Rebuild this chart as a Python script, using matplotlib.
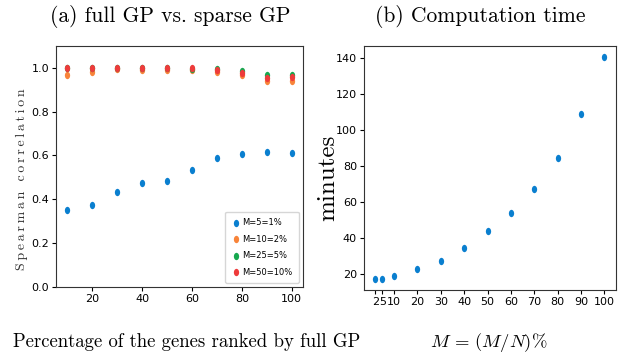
import matplotlib
matplotlib.use("Agg")
import matplotlib.pyplot as plt
from matplotlib.path import Path
from matplotlib.transforms import Affine2D

# left panel: spearman correlation vs percentage of ranked genes
pct = [10, 20, 30, 40, 50, 60, 70, 80, 90, 100]
m5 = [0.349, 0.375, 0.435, 0.475, 0.485, 0.536, 0.587, 0.606, 0.616, 0.611]
m10 = [0.965, 0.983, 0.995, 0.988, 0.991, 0.988, 0.980, 0.965, 0.942, 0.942]
m25 = [0.999, 0.997, 0.998, 0.997, 0.997, 0.996, 0.996, 0.985, 0.965, 0.968]
m50 = [1.000, 1.000, 0.998, 0.998, 0.998, 0.997, 0.991, 0.975, 0.953, 0.960]
labels = ["M=5=1%", "M=10=2%", "M=25=5%", "M=50=10%"]
colors = ["#0a7fcf", "#f8843a", "#16a84f", "#ee3b3b"]

# right panel: computation time
m_pct = [2, 5, 10, 20, 30, 40, 50, 60, 70, 80, 90, 100]
minutes = [17.0, 17.0, 18.5, 22.6, 27.1, 34.5, 43.6, 54.0, 67.1, 84.7, 109.1, 140.6]

plt.rcParams["mathtext.fontset"] = "cm"
tick_font = ["DejaVu Sans"]
serif = ["cmr10", "DejaVu Serif"]

# slightly tall ellipse marker (the source figure is squeezed horizontally)
ell = Path.unit_circle().transformed(Affine2D().scale(0.72, 1.0))

fig = plt.figure(figsize=(6.19, 3.53), dpi=100)
ax = fig.add_axes([0.0905, 0.187, 0.399, 0.683])
ax2 = fig.add_axes([0.588, 0.178, 0.407, 0.691])

for ys, lab, c in zip([m5, m10, m25, m50], labels, colors):
    ax.scatter(pct, ys, s=28, marker=ell, color=c, label=lab, linewidths=0)
ax.set_ylim(0, 1.1)
ax.set_yticks([0.0, 0.2, 0.4, 0.6, 0.8, 1.0])
ax.set_xticks([20, 40, 60, 80, 100])
ax.set_ylabel("\u2009".join("Spearman correlation"), family=serif, fontsize=10, color="#333333")
ax.yaxis.set_label_coords(-0.113, 0.448)
leg = ax.legend(loc="lower right", prop={"family": tick_font, "size": 6}, handletextpad=0.3,
                borderpad=0.75, labelspacing=0.9, handlelength=1.0, framealpha=0.8)

ax2.scatter(m_pct, minutes, s=28, marker=ell, color=colors[0], linewidths=0)
ax2.set_xticks(m_pct)
ax2.set_yticks([20, 40, 60, 80, 100, 120, 140])
ax2.set_ylabel("minutes", family=serif, fontsize=18)
ax2.yaxis.set_label_coords(-0.097, 0.459)

for a in (ax, ax2):
    for lab in a.get_xticklabels() + a.get_yticklabels():
        lab.set_family(tick_font)
        lab.set_fontsize(8)
    for s in a.spines.values():
        s.set_color("#333333")
    a.tick_params(length=3, pad=2)

fig.text(0.275, 0.952, "(a) full GP vs. sparse GP", family=serif, fontsize=15.5, ha="center", va="center")
fig.text(0.776, 0.952, "(b) Computation time", family=serif, fontsize=15.5, ha="center", va="center")
fig.text(0.302, 0.031, "Percentage of the genes ranked by full GP", family=serif, fontsize=13.5,
         ha="center", va="center")
fig.text(0.79, 0.031, r"$M\,=\,(M/N)\%$", fontsize=13.4, ha="center", va="center")

plt.savefig("out.png", dpi=100)
